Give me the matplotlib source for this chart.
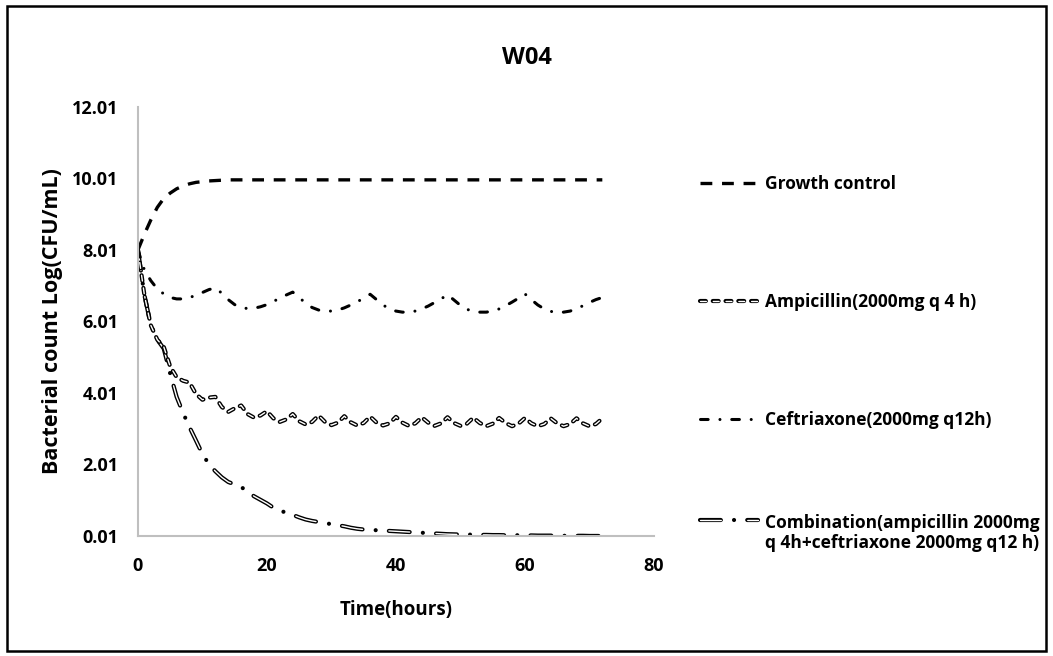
import matplotlib
matplotlib.use("Agg")
import matplotlib.pyplot as plt
from matplotlib.legend_handler import HandlerTuple
from matplotlib.patches import Rectangle

plt.rcParams["font.family"] = ["Open Sans", "DejaVu Sans"]
plt.rcParams["font.weight"] = "bold"
plt.rcParams["lines.scale_dashes"] = False

# time points (hours)
hours = list(range(0, 73))

growth_control = [
    8.01, 8.45, 8.85, 9.20, 9.45, 9.60, 9.72, 9.80, 9.86, 9.90, 9.92, 9.94, 9.95, 9.96,
] + [9.97] * 59

ceftriaxone = [
    8.01, 7.45, 7.15, 6.92, 6.78, 6.68, 6.64, 6.64, 6.68, 6.74, 6.82, 6.90, 6.95,
    6.80, 6.62, 6.48, 6.40, 6.37, 6.38, 6.42, 6.48, 6.57, 6.66, 6.75, 6.83,
    6.68, 6.52, 6.40, 6.33, 6.30, 6.30, 6.33, 6.39, 6.47, 6.56, 6.66, 6.77,
    6.62, 6.47, 6.36, 6.30, 6.27, 6.27, 6.30, 6.36, 6.44, 6.54, 6.64, 6.76,
    6.61, 6.46, 6.35, 6.29, 6.27, 6.27, 6.30, 6.36, 6.45, 6.55, 6.66, 6.78,
    6.62, 6.47, 6.36, 6.29, 6.27, 6.27, 6.30, 6.36, 6.45, 6.54, 6.62, 6.68,
]

ampicillin = [
    8.01, 6.75, 5.90, 5.50, 5.30, 4.75, 4.45, 4.35, 4.30, 3.98, 3.82, 3.88, 3.90,
    3.62, 3.48, 3.58, 3.66, 3.42, 3.32, 3.38, 3.50, 3.30, 3.20, 3.27, 3.42,
    3.22, 3.13, 3.20, 3.38, 3.20, 3.11, 3.18, 3.36, 3.19, 3.10, 3.17, 3.35,
    3.18, 3.10, 3.16, 3.34, 3.18, 3.09, 3.16, 3.33, 3.18, 3.09, 3.16, 3.33,
    3.17, 3.09, 3.15, 3.32, 3.17, 3.08, 3.15, 3.31, 3.17, 3.08, 3.15, 3.31,
    3.16, 3.08, 3.14, 3.30, 3.16, 3.08, 3.14, 3.30, 3.16, 3.08, 3.14, 3.30,
]

combination = [
    8.01, 6.75, 5.90, 5.50, 5.25, 4.55, 3.90, 3.45, 3.05, 2.68, 2.30, 2.02, 1.82,
    1.65, 1.52, 1.45, 1.38, 1.25, 1.12, 1.02, 0.92, 0.80, 0.72, 0.66, 0.60,
    0.53, 0.47, 0.43, 0.40, 0.37, 0.34, 0.31, 0.28, 0.24, 0.21, 0.19, 0.18,
    0.17, 0.16, 0.15, 0.14, 0.13, 0.12, 0.11, 0.10, 0.09, 0.08, 0.07, 0.06,
    0.055, 0.05, 0.05, 0.045, 0.04, 0.04, 0.035, 0.035, 0.03, 0.03, 0.03, 0.025,
    0.025, 0.02, 0.02, 0.02, 0.02, 0.015, 0.015, 0.015, 0.015, 0.01, 0.01, 0.01,
]

labels = [
    "Growth control",
    "Ampicillin(2000mg q 4 h)",
    "Ceftriaxone(2000mg q12h)",
    "Combination(ampicillin 2000mg\nq 4h+ceftriaxone 2000mg q12 h)",
]

y_ticks = [0.01, 2.01, 4.01, 6.01, 8.01, 10.01, 12.01]
x_ticks = [0, 20, 40, 60, 80]

fig = plt.figure(figsize=(10.53, 6.56), dpi=100)
ax = fig.add_axes([0.131, 0.183, 0.490, 0.654])

# combination (hollow long-dash-dot), drawn first so others sit on top
comb_out, = ax.plot(hours, combination, color="black", lw=3.0,
                    dashes=(15, 9.5, 0.01, 9.5), dash_capstyle="round")
comb_in, = ax.plot(hours, combination, color="white", lw=1.0,
                   dashes=(15, 19.01), dash_capstyle="round")

# ampicillin (hollow short dashes)
amp_out, = ax.plot(hours, ampicillin, color="black", lw=3.0,
                   dashes=(4.2, 5.0), dash_capstyle="round")
amp_in, = ax.plot(hours, ampicillin, color="white", lw=1.0,
                  dashes=(4.2, 5.0), dash_capstyle="round")

# ceftriaxone (dash-dot)
ceft, = ax.plot(hours, ceftriaxone, color="black", lw=2.2,
                dashes=(5.5, 8.5, 0.01, 8.5), dash_capstyle="round")

# growth control (dashed)
growth, = ax.plot(hours, growth_control, color="black", lw=2.4,
                  dashes=(8.5, 7), dash_capstyle="butt")

ax.set_xlim(0, 80)
ax.set_ylim(0.01, 12.01)
ax.set_xticks(x_ticks)
ax.set_yticks(y_ticks)
ax.set_yticklabels([f"{v:.2f}" for v in y_ticks])
ax.tick_params(length=0, labelsize=13)
ax.tick_params(axis="x", pad=15)
ax.tick_params(axis="y", pad=14)
for side in ["top", "right"]:
    ax.spines[side].set_visible(False)
for side in ["left", "bottom"]:
    ax.spines[side].set_color("#bfbfbf")
    ax.spines[side].set_linewidth(1.5)

ax.set_xlabel("Time(hours)", fontsize=13.5, fontweight="bold", labelpad=18)
ax.set_ylabel("Bacterial count Log(CFU/mL)", fontsize=15.5, fontweight="bold", labelpad=6.5)

fig.suptitle("W04", fontsize=17, fontweight="bold", x=0.5, y=0.93)

leg_kw = dict(loc="upper left", frameon=False, fontsize=12.5, handlelength=3.3,
              handletextpad=0.45, borderpad=0, borderaxespad=0,
              handler_map={tuple: HandlerTuple(ndivide=1)})

leg_top = fig.legend([growth, (amp_out, amp_in), ceft], labels[:3],
                     bbox_to_anchor=(0.665, 0.733), labelspacing=5.75, **leg_kw)
leg_comb = fig.legend([(comb_out, comb_in)], labels[3:],
                      bbox_to_anchor=(0.665, 0.217), **leg_kw)
for leg in (leg_top, leg_comb):
    for t in leg.get_texts():
        t.set_fontweight("bold")

# keep the combination sample level with the first line of its label
comb_entry = leg_comb._legend_handle_box.get_children()[0].get_children()[0]
comb_entry.align = "top"

# outer border
fig.patches.append(Rectangle((0.0065, 0.008), 0.987, 0.983, transform=fig.transFigure,
                             fill=False, edgecolor="black", lw=1.8))

fig.savefig("out.png", dpi=100)
